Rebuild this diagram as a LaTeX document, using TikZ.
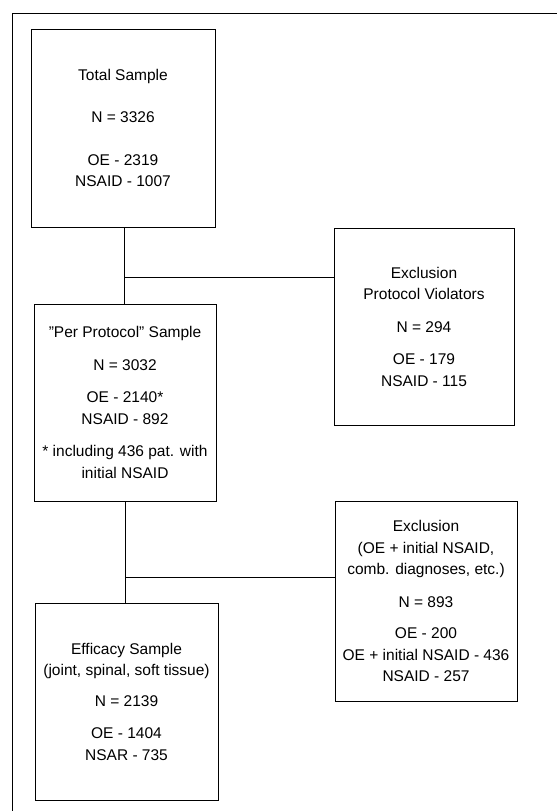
\documentclass[tikz,border=0pt]{standalone}
\usepackage{fontspec}
\setmainfont{Liberation Sans}
\usetikzlibrary{positioning}

\begin{document}
\begin{tikzpicture}[x=1pt,y=-1pt,line width=0.9pt,
  samplebox/.style={draw, inner sep=0pt, outer sep=0pt, align=center,
    font=\fontsize{15.5}{21.5}\selectfont, minimum width=#1},
  samplebox/.default=183pt]
  \useasboundingbox (0,0) rectangle (557,811);
  % outer frame, cut at the page edges
  \draw (12,811) -- (12,13.5) -- (557,13.5);
  % left column
  \node[samplebox=184pt, minimum height=198pt] (total) at (123,128)
    {Total Sample\\[21pt] N = 3326\\[21pt] OE - 2319\\ NSAID - 1007};
  \node[samplebox=182pt, minimum height=197pt] (pp) at (125,402.5)
    {\symbol{34}Per Protocol\symbol{34} Sample\\[11pt] N = 3032\\[11pt] OE - 2140*\\ NSAID - 892\\[11pt]
     * including 436 pat. with\\ initial NSAID};
  \node[samplebox=183pt, minimum height=197pt] (eff) at (126.5,701.5)
    {Efficacy Sample\\ (joint, spinal, soft tissue)\\[9pt] N = 2139\\[11pt]
     OE - 1404\\ NSAR - 735};
  % right column
  \node[samplebox=180pt, minimum height=197pt] (exclpv) at (424,326.5)
    {Exclusion\\ Protocol Violators\\[11pt] N = 294\\[11pt] OE - 179\\ NSAID - 115};
  \node[samplebox=182pt, minimum height=200pt] (exclpp) at (426,601)
    {Exclusion\\ (OE + initial NSAID,\\ comb. diagnoses, etc.)\\[11pt] N = 893\\[10pt]
     OE - 200\\ OE + initial NSAID - 436\\ NSAID - 257};
  % connectors
  \coordinate (j1) at (124,277);
  \coordinate (j2) at (125,577);
  \draw (total.south -| j1) -- (pp.north -| j1);
  \draw (j1) -- (j1 -| exclpv.west);
  \draw (pp.south -| j2) -- (eff.north -| j2);
  \draw (j2) -- (j2 -| exclpp.west);
\end{tikzpicture}
\end{document}
